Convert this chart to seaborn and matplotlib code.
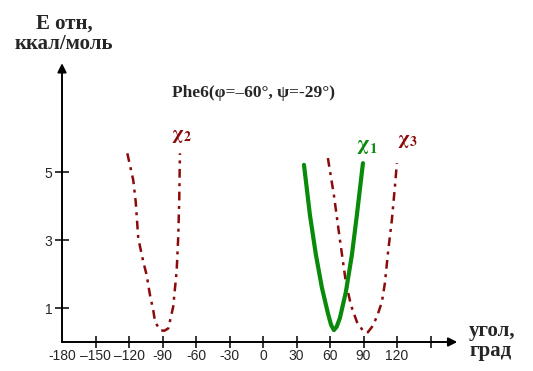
import matplotlib
matplotlib.use("Agg")
import matplotlib.pyplot as plt
import seaborn as sns
import pandas as pd

# ---- data ----
chi2_angle = [-121.5, -116.2, -114.0, -111.7, -107.2, -104.2, -101.2, -98.3, -96.7, -92.3, -88.5, -84.8, -80.4, -77.3, -75.9, -75.0, -74.4]
chi2_E     = [5.55, 4.76, 4.13, 3.05, 2.36, 1.97, 1.38, 0.94, 0.60, 0.35, 0.33, 0.40, 1.04, 2.10, 3.10, 4.18, 5.55]

chi1_angle = [36.7, 42.0, 47.4, 52.8, 58.1, 61.0, 63.5, 66.0, 68.9, 74.2, 79.6, 84.1, 89.5]
chi1_E     = [5.21, 3.74, 2.56, 1.59, 0.85, 0.50, 0.35, 0.45, 0.71, 1.47, 2.56, 3.74, 5.26]

chi3_angle = [58.1, 63.5, 68.9, 74.2, 78.7, 84.1, 90.4, 94.0, 97.5, 102.0, 106.5, 109.2, 111.9, 115.4, 118.1, 119.9]
chi3_E     = [5.41, 4.32, 3.00, 1.76, 1.09, 0.59, 0.29, 0.29, 0.44, 0.74, 1.18, 1.74, 2.62, 3.59, 4.56, 5.26]

x_ticks = [-150, -120, -90, -60, -30, 0, 30, 60, 90, 120, 150]
x_tick_labels = ["\u2013150", "\u2013120", "-90", "-60", "-30", "0", "30", "60", "90", "120", ""]
y_ticks = [1, 3, 5]
y_tick_labels = ["1", "3", "5"]

title_text = "Phe6(\u03c6=\u201360\u00b0, \u03c8=-29\u00b0)"
ylabel_text = "E отн,\nккал/моль"
xlabel_text = "угол,\nград"

sns.set_style("white")
plt.rcParams['font.family'] = ['Liberation Sans', 'DejaVu Sans']
plt.rcParams['mathtext.fontset'] = 'stix'

W, H = 533, 371
fig = plt.figure(figsize=(W / 100, H / 100), dpi=100)
px_per_deg = 33.5 / 30
px_per_E = 34.0
left_px, right_px, bottom_px, top_px = 62, 460, 342, 60
ax = fig.add_axes([left_px / W, (H - bottom_px) / H,
                   (right_px - left_px) / W, (bottom_px - top_px) / H])
ax.set_xlim(-180, -180 + (right_px - left_px) / px_per_deg)
ax.set_ylim(0, (bottom_px - top_px) / px_per_E)

red = "#8b0a0a"
green = "#0a8a0a"
dashdot = (0, (3.5, 2.2, 1.2, 2.2))

df2 = pd.DataFrame({"angle": chi2_angle, "E": chi2_E})
df1 = pd.DataFrame({"angle": chi1_angle, "E": chi1_E})
df3 = pd.DataFrame({"angle": chi3_angle, "E": chi3_E})
sns.lineplot(data=df2, x="angle", y="E", sort=False, ax=ax, color=red, lw=1.8, linestyle=dashdot)
sns.lineplot(data=df3, x="angle", y="E", sort=False, ax=ax, color=red, lw=1.8, linestyle=dashdot)
sns.lineplot(data=df1, x="angle", y="E", sort=False, ax=ax, color=green, lw=3.0)

for s in ax.spines.values():
    s.set_visible(False)

ax.annotate("", xy=(174, 0), xytext=(-180, 0), xycoords="data",
            arrowprops=dict(arrowstyle="-|>", color="black", lw=1.4, mutation_scale=13,
                            shrinkA=0, shrinkB=0), annotation_clip=False)
ax.annotate("", xy=(-180, 8.2), xytext=(-180, 0), xycoords="data",
            arrowprops=dict(arrowstyle="-|>", color="black", lw=1.4, mutation_scale=13,
                            shrinkA=0, shrinkB=0), annotation_clip=False)

ax.set_xticks(x_ticks)
ax.set_xticklabels(x_tick_labels)
ax.set_yticks(y_ticks)
ax.set_yticklabels(y_tick_labels)
ax.tick_params(axis="x", direction="inout", length=8, width=1.3, pad=1, labelsize=10, bottom=True)
ax.tick_params(axis="y", direction="inout", length=10, width=1.3, pad=2, labelsize=10, left=True)
ax.set_xlabel("")
ax.set_ylabel("")
ax.text(-180, -0.2, "-180", ha="center", va="top", fontsize=10)

serif = ['Liberation Serif', 'DejaVu Serif']
fig.text(64 / W, 1 - 34 / H, ylabel_text, ha="center", va="center", fontsize=15,
         fontweight="bold", family=serif, linespacing=1.0)
fig.text(469 / W, 1 - 341 / H, xlabel_text, ha="left", va="center", fontsize=15,
         fontweight="bold", family=serif, linespacing=0.95)
fig.text(172 / W, 1 - 93 / H, title_text, ha="left", va="center", fontsize=12.5,
         fontweight="bold", family=serif)

ax.text(-82, 6.05, r"$\mathbf{\chi_2}$", color=red, fontsize=14, ha="left", va="center")
ax.text(83, 5.75, r"$\mathbf{\chi_1}$", color=green, fontsize=15, ha="left", va="center")
ax.text(120, 5.9, r"$\mathbf{\chi_3}$", color=red, fontsize=14, ha="left", va="center")

fig.savefig("out.png", dpi=100)
